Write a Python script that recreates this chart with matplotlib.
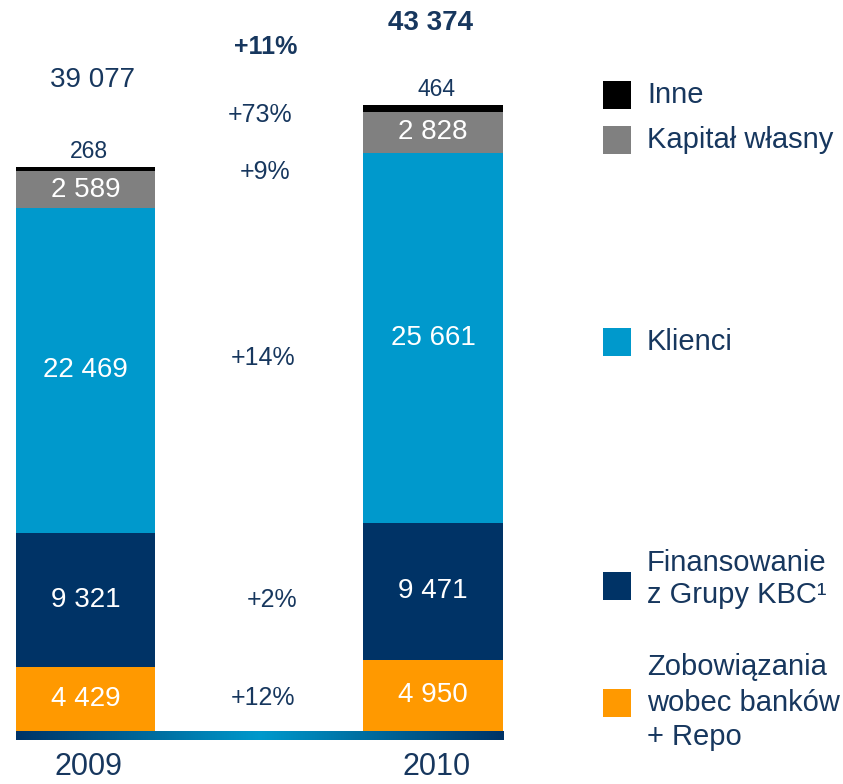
import matplotlib

matplotlib.use("Agg")
import matplotlib.pyplot as plt
import numpy as np
from matplotlib.colors import LinearSegmentedColormap
from matplotlib.patches import Rectangle

# data (mln PLN)
YEARS = ["2009", "2010"]
SEGMENTS = [
    "Zobowiązania\nwobec banków\n+ Repo",
    "Finansowanie\nz Grupy KBC¹",
    "Klienci",
    "Kapitał własny",
    "Inne",
]
REPO = [4429, 4950]
KBC = [9321, 9471]
CLIENTS = [22469, 25661]
EQUITY = [2589, 2828]
OTHER = [268, 464]
TOTALS = [39077, 43374]

COLORS = ["#FF9900", "#003366", "#0099CC", "#808080", "#000000"]
TEXT_COLOR = "#17375E"
FONT = "Liberation Sans"

W, H = 843, 784
PX_PER_UNIT = 0.01443  # pixels per mln
BASE_PX = 731
X0_PX, X1_PX = 85.5, 433.0
BAR_PX = 140

plt.rcParams["font.family"] = FONT


def fmt(v):
    return f"{v:,}".replace(",", " ")


def pct(a, b):
    return f"+{round((b / a - 1) * 100):.0f}%"


unit = X1_PX - X0_PX
fig = plt.figure(figsize=(W / 100, H / 100), dpi=100)
ax = fig.add_axes([0, 0, 1, 1])
ax.axis("off")


def px(x, y):
    # pixel (from top-left) -> figure fraction
    return x / W, 1 - y / H


series = [REPO, KBC, CLIENTS, EQUITY, OTHER]
xpos = np.arange(len(YEARS))
width = BAR_PX / unit
bottom = np.zeros(len(YEARS))
for i, (vals, color) in enumerate(zip(series, COLORS)):
    vals = np.array(vals, dtype=float)
    ax.bar(xpos, vals, width=width, bottom=bottom, color=color, linewidth=0, zorder=3)
    if i < 4:
        for x, b, v in zip(xpos, bottom, vals):
            ax.text(x, b + v / 2, fmt(int(v)), ha="center", va="center",
                    color="white", fontsize=20, zorder=4)
    else:
        for x, b, v in zip(xpos, bottom, vals):
            ax.text(x + 0.01, b + v + 1050, fmt(int(v)), ha="center", va="center",
                    color=TEXT_COLOR, fontsize=16.5, zorder=4)
    bottom += vals

# gradient baseline
cmap = LinearSegmentedColormap.from_list("base", ["#003366", "#0099CC", "#003366"])
grad = np.linspace(0, 1, 256).reshape(1, -1)
ax.imshow(grad, cmap=cmap, aspect="auto", zorder=2,
          extent=[xpos[0] - width / 2, xpos[-1] + width / 2, -9 / PX_PER_UNIT, 0])
ax.set_xlim(-X0_PX / unit, (W - X0_PX) / unit)
ax.set_ylim(-(H - BASE_PX) / PX_PER_UNIT, BASE_PX / PX_PER_UNIT)

# year labels
for x, year in zip(xpos, YEARS):
    ax.text(x + 0.01, -36 / PX_PER_UNIT, year, ha="center", va="center",
            color=TEXT_COLOR, fontsize=22)

# totals
fig.text(*px(93, 80), fmt(TOTALS[0]), ha="center", va="center",
         color=TEXT_COLOR, fontsize=20)
fig.text(*px(431, 23), fmt(TOTALS[1]), ha="center", va="center",
         color=TEXT_COLOR, fontsize=20, fontweight="bold")

# growth rates
changes = [pct(a[0], a[1]) for a in series]
change_y = [698, 600, 358, 172, 115]
change_x = [263, 272, 263, 265, 260]
for s, x, y in zip(changes, change_x, change_y):
    fig.text(*px(x, y), s, ha="center", va="center", color=TEXT_COLOR, fontsize=18)
fig.text(*px(266, 47), pct(TOTALS[0], TOTALS[1]), ha="center", va="center",
         color=TEXT_COLOR, fontsize=18, fontweight="bold")

# legend
legend_box_y = [703, 586, 342, 139.5, 95]
legend_text_y = [[667, 703, 737], [563, 595], [342], [139.5], [95]]
for label, color, by, ty in zip(SEGMENTS, COLORS, legend_box_y, legend_text_y):
    fx, fy = px(603, by + 14)
    fig.patches.append(Rectangle((fx, fy), 28 / W, 28 / H, transform=fig.transFigure,
                                 facecolor=color, edgecolor="none"))
    for line, y in zip(label.split("\n"), ty):
        fig.text(*px(647, y), line, ha="left", va="center",
                 color=TEXT_COLOR, fontsize=21)

fig.savefig("out.png", dpi=100)
